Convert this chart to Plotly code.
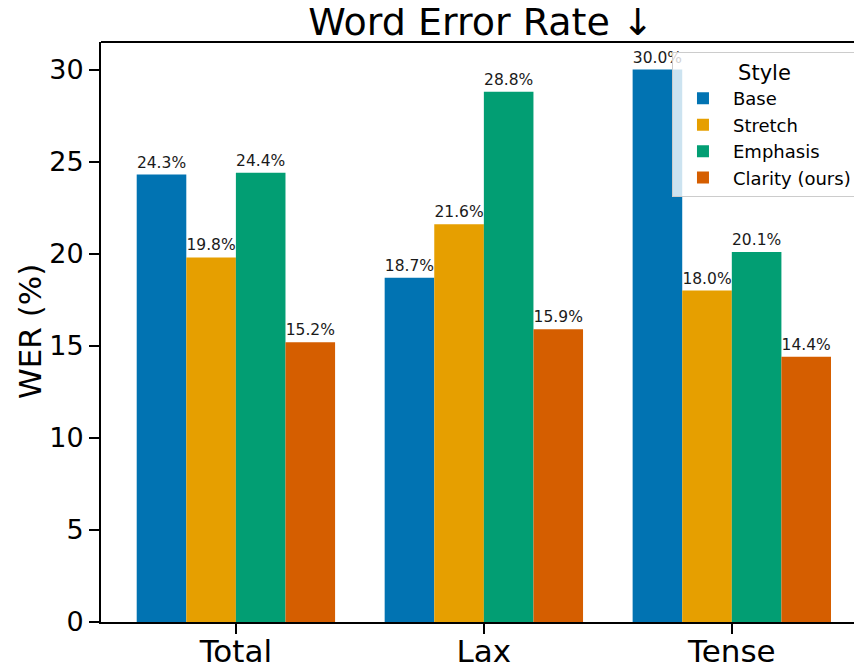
import plotly.graph_objects as go

categories = ["Total", "Lax", "Tense"]
styles = ["Base", "Stretch", "Emphasis", "Clarity (ours)"]
wer_base = [24.3, 18.7, 30.0]
wer_stretch = [19.8, 21.6, 18.0]
wer_emphasis = [24.4, 28.8, 20.1]
wer_clarity = [15.2, 15.9, 14.4]
colors = ["#0173B2", "#E69F00", "#029E73", "#D55E00"]
y_ticks = [0, 5, 10, 15, 20, 25, 30]

series = [wer_base, wer_stretch, wer_emphasis, wer_clarity]
FONT = "DejaVu Sans"
W, H = 854, 662  # page body has an 8px margin

fig = go.Figure()
for name, vals, col in zip(styles, series, colors):
    fig.add_trace(go.Bar(
        x=categories, y=vals, name=name,
        marker=dict(color=col, line=dict(width=0)),
        text=[f"{v:.1f}%" for v in vals],
        textposition="outside", cliponaxis=False,
        textfont=dict(family=FONT, size=15.5, color="#1a1a1a"),
    ))

fig.update_layout(
    width=W, height=H,
    margin=dict(l=93, r=0, t=34, b=48, autoexpand=False),
    paper_bgcolor="white", plot_bgcolor="white",
    barmode="group", bargap=0.2, bargroupgap=0,
    font=dict(family=FONT, color="black"),
    title=dict(text="Word Error Rate ↓", x=473 / W, xanchor="center",
               y=1 - 14 / H, yanchor="middle",
               font=dict(family=FONT, size=38, color="black")),
    legend=dict(
        title=dict(text="Style", side="top center", font=dict(size=21)),
        x=0.9934, xanchor="right", y=0.983, yanchor="top",
        bgcolor="rgba(255,255,255,0.8)", bordercolor="#cccccc", borderwidth=1,
        font=dict(family=FONT, size=18, color="black"),
        itemwidth=50,
    ),
    showlegend=True,
)
fig.update_xaxes(
    range=[-0.544, 2.525], showline=True, linecolor="black", linewidth=2,
    mirror=False, ticks="outside", ticklen=10, tickwidth=2, tickcolor="black",
    tickfont=dict(family=FONT, size=31, color="black"), showgrid=False,
    automargin=False, ticklabelstandoff=-9,
)
fig.update_yaxes(
    range=[0, 31.5], tickvals=y_ticks, showline=True, linecolor="black",
    linewidth=2, ticks="outside", ticklen=10, tickwidth=2, tickcolor="black",
    tickfont=dict(family=FONT, size=27, color="black"), showgrid=False,
    zeroline=False, automargin=False,
)
# y-axis title
fig.add_annotation(text="WER (%)", xref="paper", yref="paper",
                   x=-(93 - 22) / 761, y=0.5, xanchor="center", yanchor="middle",
                   textangle=-90, showarrow=False,
                   font=dict(family=FONT, size=31, color="black"))
# top spine
fig.add_shape(type="line", xref="paper", yref="paper", x0=0, x1=1, y0=1, y1=1,
              line=dict(color="black", width=2))

fig.write_html("out.html")
